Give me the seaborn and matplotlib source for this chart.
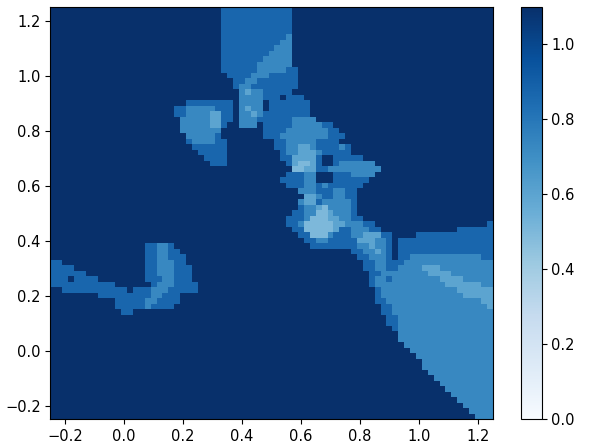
import re
import numpy as np
import pandas as pd
import seaborn as sns
import matplotlib
matplotlib.use("Agg")
import matplotlib.pyplot as plt

# value of each letter used in the rows below
levels = {".": 1.1, "a": 0.87, "b": 0.73, "c": 0.6, "d": 0.5}

x_ticks = [-0.2, 0.0, 0.2, 0.4, 0.6, 0.8, 1.0, 1.2]
y_ticks = [-0.2, 0.0, 0.2, 0.4, 0.6, 0.8, 1.0, 1.2]
cbar_ticks = [0.0, 0.2, 0.4, 0.6, 0.8, 1.0]
n_cols = 75

# heat values, top row first, run lengths per row (rest of a row is dark)
rows = [
    "29. 12a", "29. 12a", "29. 12a", "29. 12a", "29. 12a",
    "29. 11a 1b",
    "29. 10a 2b",
    "29. 9a 3b",
    "29. 8a 4b",
    "29. 7a 5b",
    "29. 6a 6b",
    "29. 6a 5b 2a",
    "30. 4a 3b 5a",
    "31. 2a 2b 7a",
    "31. 1a 2b 8a",
    "32. 1b 1c 2b 5a",
    "32. 4b 3a 1. 3a",
    "23. 8a 1. 4b 1. 7a",
    "21. 2a 5b 3a 1. 1b 1c 2b 1. 7a",
    "21. 2a 4b 2c 2a 1. 2b 1c 1b 8a",
    "22. 5b 2c 2a 1. 3b 6a 4b",
    "22. 5b 2c 1a 2. 3b 1. 5a 5b 2a",
    "22. 7b 7. 4a 7b 2a",
    "23. 5b 1a 7. 3a 8b 3a",
    "23. 1a 4b 2a 8. 2a 5b 4a",
    "24. 6a 8. 2a 2b 2c 1b 4a 1b 1a",
    "25. 5a 9. 1a 2b 3c 1b 5a",
    "26. 4a 9. 2a 4c 1a 2. 5a",
    "27. 3a 10. 1a 1c 2d 1c 1a 2. 1a 6b",
    "41. 2d 2c 2a 9b",
    "40. 3a 2b 3. 3a 4b",
    "39. 4a 2b 3. 6a",
    "40. 3a 2b 1a 1b 6a",
    "42. 3b 3a 2b 2a",
    "43. 2c 1b 2a 2b 2a",
    "42. 1b 2c 1a 5b 1a",
    "42. 1a 2b 1c 1d 4b 1a",
    "41. 2a 2b 2d 1c 3b 1a",
    "40. 3a 1b 3d 2c 2b 2a",
    "40. 2a 1b 5d 2c 3b 2a 19. 1a",
    "41. 2a 5d 1c 2a 3b 2a 13. 6a",
    "42. 2a 3d 1b 3a 2b 3c 2a 4. 13a",
    "43. 2a 2b 5a 3c 2b 1a 1. 16a",
    "16. 2a 2b 1a 23. 8a 2b 1c 2b 1a 1. 16a",
    "16. 2a 2b 2a 29. 2a 2b 1c 1b 1a 1. 16a",
    "16. 2a 2b 3a 29. 2a 3b 1a 1. 2a 12b 2a",
    "2a 14. 2a 3b 2a 30. 2a 2b 3a 15b",
    "4a 12. 2a 3b 3a 29. 2a 2b 2a 4b 3c 9b",
    "6a 10. 2a 3b 3a 30. 2a 8b 4c 7b",
    "3a 1. 4a 8. 3a 2b 3a 30. 1a 2b 1a 8b 4c 5b",
    "11a 6. 1a 3b 4a 29. 1a 12b 6c 2b",
    "2. 11a 1. 3a 3b 5a 30. 1a 13b 6c",
    "8. 9a 2b 3a 33. 1a 14b 5c",
    "11. 5a 2b 4a 33. 2a 16b 2c",
    "11. 5a 1b 4a 35. 2a 16b 1c",
    "12. 2a 42. 2a 17b",
    "57. 2a 16b",
    "57. 2a 16b",
    "58. 1a 16b",
    "59. 16b",
    "59. 16b",
    "60. 15b",
    "61. 14b",
    "62. 13b",
    "63. 12b",
    "63. 12b",
    "64. 11b",
    "65. 10b",
    "66. 9b",
    "67. 8b",
    "68. 7b",
    "69. 6b",
    "70. 5b",
    "71. 4b",
    "72. 3b",
]


def decode_row(row):
    vals = []
    for count, letter in re.findall(r"(\d+)([.a-d])", row):
        vals += [levels[letter]] * int(count)
    return vals + [levels["."]] * (n_cols - len(vals))


grid = pd.DataFrame([decode_row(r) for r in rows])
n_rows = len(rows)

plt.rcParams["font.size"] = 10.5
fig = plt.figure(figsize=(5.98, 4.48), dpi=100)
ax = fig.add_axes([50.4 / 598, 28.7 / 448, 442.2 / 598, 412.3 / 448])
cax = fig.add_axes([521 / 598, 29 / 448, 20.5 / 598, 412 / 448])

sns.heatmap(grid, ax=ax, cbar_ax=cax, cmap="Blues", vmin=0, vmax=1.1,
            cbar_kws={"ticks": cbar_ticks}, xticklabels=False, yticklabels=False)

# heatmap cells are counted from the top left, ticks have to follow that
ax.set_xticks([(v + 0.25) / 1.5 * n_cols for v in x_ticks])
ax.set_xticklabels([f"{v:.1f}".replace("-", "\u2212") for v in x_ticks], rotation=0)
ax.set_yticks([(1.25 - v) / 1.5 * n_rows for v in y_ticks])
ax.set_yticklabels([f"{v:.1f}".replace("-", "\u2212") for v in y_ticks], rotation=0)
ax.tick_params(length=3.5, width=0.8, color="black", labelsize=10.5)
for spine in ax.spines.values():
    spine.set_visible(True)
    spine.set_linewidth(0.8)

cax.tick_params(length=3.5, width=0.8, labelsize=10.5)
cax.set_yticklabels([f"{v:.1f}" for v in cbar_ticks])
cb = ax.collections[0].colorbar
cb.outline.set_visible(True)
cb.outline.set_linewidth(0.8)
cb.outline.set_edgecolor("black")

fig.savefig("out.png", dpi=100)
